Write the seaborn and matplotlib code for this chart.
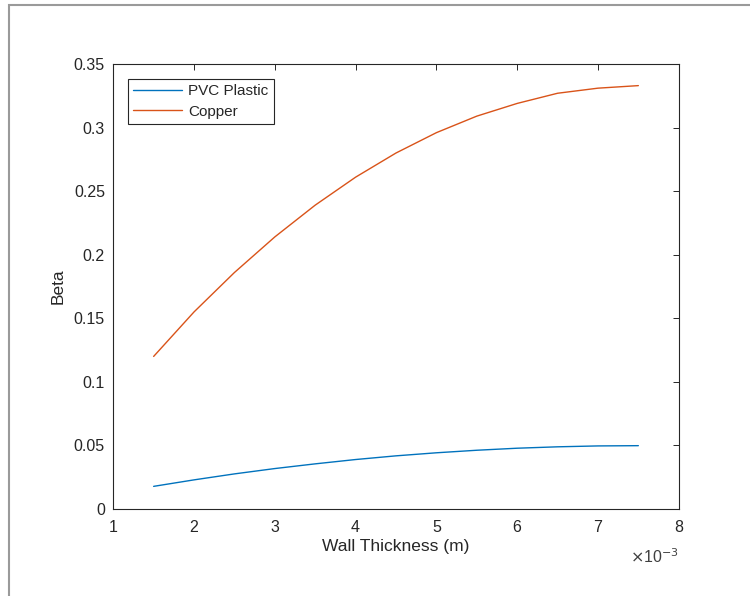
import pandas as pd
import matplotlib.pyplot as plt
import matplotlib.ticker as mticker
from matplotlib.patches import Rectangle
import seaborn as sns

# ---- data ----
thickness = [1.5e-3, 2.0e-3, 2.5e-3, 3.0e-3, 3.5e-3, 4.0e-3, 4.5e-3,
             5.0e-3, 5.5e-3, 6.0e-3, 6.5e-3, 7.0e-3, 7.5e-3]
beta_pvc = [0.0178, 0.0229, 0.0276, 0.0318, 0.0355, 0.0389, 0.0418,
            0.0442, 0.0462, 0.0478, 0.0489, 0.0496, 0.0498]
beta_copper = [0.120, 0.155, 0.186, 0.214, 0.239, 0.261, 0.280,
               0.296, 0.309, 0.319, 0.327, 0.331, 0.333]
x_ticks = [1e-3, 2e-3, 3e-3, 4e-3, 5e-3, 6e-3, 7e-3, 8e-3]
y_ticks = [0, 0.05, 0.1, 0.15, 0.2, 0.25, 0.3, 0.35]

pvc = pd.DataFrame({'t': thickness, 'beta': beta_pvc})
copper = pd.DataFrame({'t': thickness, 'beta': beta_copper})

sns.set_style("white")
plt.rcParams['font.family'] = ['Liberation Sans', 'DejaVu Sans']
plt.rcParams['xtick.direction'] = 'in'
plt.rcParams['ytick.direction'] = 'in'

fig = plt.figure(figsize=(7.5, 5.96), dpi=100)
ax = fig.add_axes([0.151, 0.146, 0.754, 0.7466])

sns.lineplot(data=pvc, x='t', y='beta', ax=ax, color='#0072BD', lw=1.0, label='PVC Plastic')
sns.lineplot(data=copper, x='t', y='beta', ax=ax, color='#D95319', lw=1.0, label='Copper')

ax.set_xlim(1e-3, 8e-3)
ax.set_ylim(0, 0.35)
ax.set_xticks(x_ticks)
ax.set_yticks(y_ticks)
ax.yaxis.set_major_formatter(mticker.FuncFormatter(lambda v, p: f'{v:g}'))
ax.xaxis.set_major_formatter(mticker.FuncFormatter(lambda v, p: f'{v * 1e3:g}'))
# exponent label, MATLAB style
ax.text(1.0, -0.108, r'$\times$10$^{-3}$', transform=ax.transAxes, ha='right', va='center',
        fontsize=11.5, color='#404040')

ax.tick_params(axis='both', labelsize=11.5, colors='#262626', length=4, width=0.7,
               top=True, right=True)
ax.tick_params(axis='x', pad=8)
ax.tick_params(axis='y', pad=6)
for s in ax.spines.values():
    s.set_color('#262626')
    s.set_linewidth(0.8)

ax.set_xlabel('Wall Thickness (m)', fontsize=12.5, color='#262626', labelpad=3)
ax.set_ylabel('Beta', fontsize=12.5, color='#262626', labelpad=6)

leg = ax.legend(loc='upper left', bbox_to_anchor=(0.0255, 0.966), borderaxespad=0,
                fontsize=11, handlelength=3.2, handletextpad=0.4, labelspacing=0.4,
                borderpad=0.35, fancybox=False, framealpha=1)
leg.get_frame().set_edgecolor('#262626')
leg.get_frame().set_linewidth(0.8)

# grey outer frame like the screenshot
fig.patches.append(Rectangle((9 / 750, -0.05), 1.0, 1.05 - 5 / 596, transform=fig.transFigure,
                             fill=False, edgecolor='#9a9a9a', lw=1.5))

fig.savefig('out.png', dpi=100)
